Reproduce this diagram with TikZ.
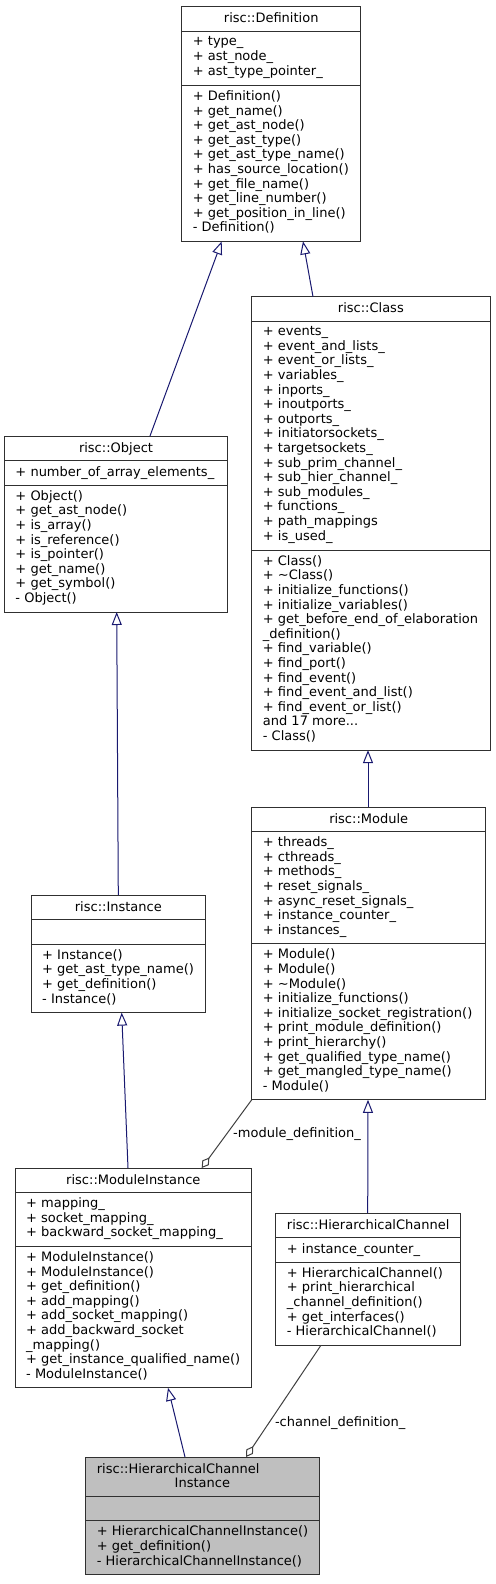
\documentclass[tikz,border=0pt]{standalone}
\usepackage{fontspec}
\setmainfont{DejaVu Sans}
\usetikzlibrary{arrows.meta}
\definecolor{edgeblue}{HTML}{191970}
\definecolor{aggrcol}{HTML}{404040}
\definecolor{boxline}{HTML}{303030}
\definecolor{curfill}{HTML}{BFBFBF}
\newcommand\umlfont{\fontsize{13}{14.6}\selectfont}
\newcommand\umlbox[8]{%
  \pgfmathsetmacro\hA{#5*14.6+10}%
  \pgfmathsetmacro\hB{#6*14.6+10}%
  \pgfmathsetmacro\hC{#7*14.6+10}%
  \pgfmathsetmacro\hT{\hA+\hB+\hC}%
  \pgfmathsetmacro\hAB{\hA+\hB}%
  \pgfmathsetmacro\yF{-(\hA+5)}%
  \pgfmathsetmacro\yM{-(\hAB+5)}%
  \node[classbox, fill=#8, minimum width=#4pt, minimum height=\hT pt, anchor=north west] (#1) at (#2,#3) {};
  \draw[divider] ([yshift=-\hA pt]#1.north west) -- ([yshift=-\hA pt]#1.north east);
  \draw[divider] ([yshift=-\hAB pt]#1.north west) -- ([yshift=-\hAB pt]#1.north east);
  \coordinate (#1-t) at ([yshift=-16pt]#1.north);
  \coordinate (#1-tl) at ([xshift=11pt,yshift=-16pt]#1.north west);
  \coordinate (#1-f) at ([xshift=11pt,yshift=\yF pt]#1.north west);
  \coordinate (#1-m) at ([xshift=11pt,yshift=\yM pt]#1.north west);
}
\tikzset{
  classbox/.style={draw=boxline, line width=1pt, inner sep=0pt, outer sep=0pt, rectangle},
  divider/.style={draw=boxline, line width=1pt},
  title/.style={inner sep=0pt, anchor=base, font=\umlfont},
  members/.style={inner sep=0pt, anchor=north west, align=left, font=\umlfont, execute at begin node=\rule{0pt}{11pt}},
  inherit/.style={draw=edgeblue, line width=1pt, -{Triangle[open, length=13pt, width=10pt]}},
  aggregate/.style={draw=aggrcol, line width=1pt, -{Diamond[open, length=13pt, width=8pt]}},
  rolelabel/.style={font=\umlfont, inner sep=0pt, anchor=west, text=black}
}
\begin{document}
\begin{tikzpicture}[x=1pt,y=-1pt]
\fill[white] (0,0) rectangle (495,1584);
\useasboundingbox (0,0) rectangle (495,1584);

% risc::Definition
\umlbox{def}{181.7}{7}{179}{1}{3}{10}{white}
\node[title] (def-title) at (def-t) {risc::Definition};
\node[members] (def-fields) at (def-f) {+ type\_\\+ ast\_node\_\\+ ast\_type\_pointer\_};
\node[members] (def-methods) at (def-m) {+ Definition()\\+ get\_name()\\+ get\_ast\_node()\\+ get\_ast\_type()\\+ get\_ast\_type\_name()\\+ has\_source\_location()\\+ get\_file\_name()\\+ get\_line\_number()\\+ get\_position\_in\_line()\\- Definition()};

% risc::Class
\umlbox{cls}{251.7}{296.7}{238.3}{1}{15}{13}{white}
\node[title] (cls-title) at (cls-t) {risc::Class};
\node[members] (cls-fields) at (cls-f) {+ events\_\\+ event\_and\_lists\_\\+ event\_or\_lists\_\\+ variables\_\\+ inports\_\\+ inoutports\_\\+ outports\_\\+ initiatorsockets\_\\+ targetsockets\_\\+ sub\_prim\_channel\_\\+ sub\_hier\_channel\_\\+ sub\_modules\_\\+ functions\_\\+ path\_mappings\\+ is\_used\_};
\node[members] (cls-methods) at (cls-m) {+ Class()\\+ \textasciitilde Class()\\+ initialize\_functions()\\+ initialize\_variables()\\+ get\_before\_end\_of\_elaboration\\\_definition()\\+ find\_variable()\\+ find\_port()\\+ find\_event()\\+ find\_event\_and\_list()\\+ find\_event\_or\_list()\\and 17 more...\\- Class()};

% risc::Object
\umlbox{obj}{4.3}{436}{223.4}{1}{1}{8}{white}
\node[title] (obj-title) at (obj-t) {risc::Object};
\node[members] (obj-fields) at (obj-f) {+ number\_of\_array\_elements\_};
\node[members] (obj-methods) at (obj-m) {+ Object()\\+ get\_ast\_node()\\+ is\_array()\\+ is\_reference()\\+ is\_pointer()\\+ get\_name()\\+ get\_symbol()\\- Object()};

% risc::Instance
\umlbox{ins}{31}{895}{174.7}{1}{1}{4}{white}
\node[title] (ins-title) at (ins-t) {risc::Instance};
\node[members] (ins-methods) at (ins-m) {+ Instance()\\+ get\_ast\_type\_name()\\+ get\_definition()\\- Instance()};

% risc::Module
\umlbox{mod}{251.7}{807}{234}{1}{7}{10}{white}
\node[title] (mod-title) at (mod-t) {risc::Module};
\node[members] (mod-fields) at (mod-f) {+ threads\_\\+ cthreads\_\\+ methods\_\\+ reset\_signals\_\\+ async\_reset\_signals\_\\+ instance\_counter\_\\+ instances\_};
\node[members] (mod-methods) at (mod-m) {+ Module()\\+ Module()\\+ \textasciitilde Module()\\+ initialize\_functions()\\+ initialize\_socket\_registration()\\+ print\_module\_definition()\\+ print\_hierarchy()\\+ get\_qualified\_type\_name()\\+ get\_mangled\_type\_name()\\- Module()};

% risc::ModuleInstance
\umlbox{mi}{15}{1168}{236.7}{1}{3}{9}{white}
\node[title] (mi-title) at (mi-t) {risc::ModuleInstance};
\node[members] (mi-fields) at (mi-f) {+ mapping\_\\+ socket\_mapping\_\\+ backward\_socket\_mapping\_};
\node[members] (mi-methods) at (mi-m) {+ ModuleInstance()\\+ ModuleInstance()\\+ get\_definition()\\+ add\_mapping()\\+ add\_socket\_mapping()\\+ add\_backward\_socket\\\_mapping()\\+ get\_instance\_qualified\_name()\\- ModuleInstance()};

% risc::HierarchicalChannel
\umlbox{hc}{275.7}{1213}{185}{1}{1}{5}{white}
\node[title] (hc-title) at (hc-t) {risc::HierarchicalChannel};
\node[members] (hc-fields) at (hc-f) {+ instance\_counter\_};
\node[members] (hc-methods) at (hc-m) {+ HierarchicalChannel()\\+ print\_hierarchical\\\_channel\_definition()\\+ get\_interfaces()\\- HierarchicalChannel()};

% risc::HierarchicalChannelInstance
\umlbox{hci}{85.7}{1457}{233.3}{2}{1}{3}{curfill}
\node[title, anchor=base west] (hci-title1) at (hci-tl) {risc::HierarchicalChannel};
\node[title] (hci-title2) at ([yshift=-14.6pt]hci-t) {Instance};
\node[members] (hci-methods) at (hci-m) {+ HierarchicalChannelInstance()\\+ get\_definition()\\- HierarchicalChannelInstance()};

% inheritance
\draw[inherit] ([xshift=145.7pt]obj.north west) -- ([xshift=40pt]def.south west);
\draw[inherit] ([xshift=61.3pt]cls.north west) -- ([xshift=121.3pt]def.south west);
\draw[inherit] ([xshift=87.3pt]ins.north west) -- ([xshift=112.4pt]obj.south west);
\draw[inherit] ([xshift=116.3pt]mod.north west) -- ([xshift=116.3pt]cls.south west);
\draw[inherit] ([xshift=113pt]mi.north west) -- ([xshift=90.7pt]ins.south west);
\draw[inherit] ([xshift=92pt]hc.north west) -- ([xshift=116.3pt]mod.south west);
\draw[inherit] ([xshift=99.3pt]hci.north west) -- ([xshift=153pt]mi.south west);

% aggregation
\draw[aggregate] (mod.south west) -- node[rolelabel, pos=0.5, xshift=6pt] (lbl-mod) {-module\_definition\_} ([xshift=186.7pt]mi.north west);
\draw[aggregate] ([xshift=45.3pt]hc.south west) -- node[rolelabel, pos=0.7, xshift=6pt] (lbl-hc) {-channel\_definition\_} ([xshift=160.3pt]hci.north west);
\end{tikzpicture}
\end{document}
